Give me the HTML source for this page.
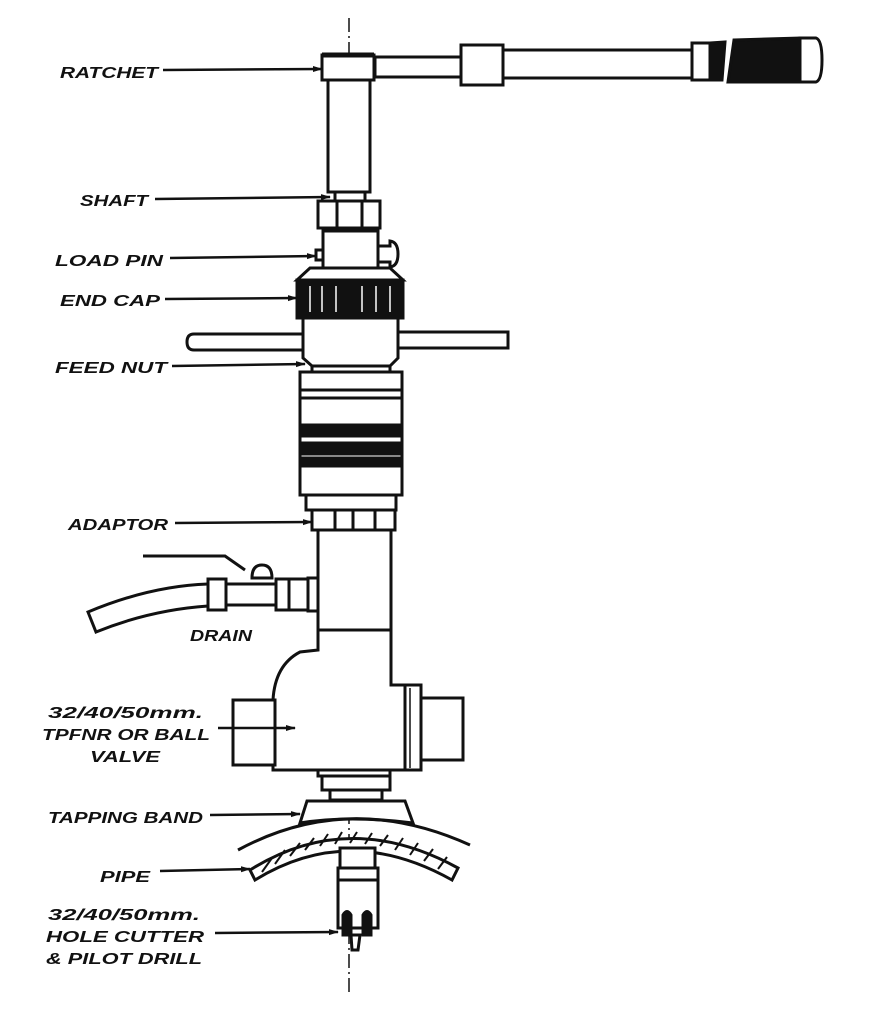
<!DOCTYPE html>
<html><head><meta charset="utf-8"><style>
html,body{margin:0;padding:0;background:#fff;}
svg{display:block;}
text{font-family:"Liberation Sans",sans-serif;font-weight:bold;font-style:italic;font-size:16px;fill:#111;}
</style></head><body>
<svg width="881" height="1024" viewBox="0 0 881 1024" xmlns="http://www.w3.org/2000/svg">
<defs>
<marker id="a" markerWidth="10" markerHeight="8" refX="9" refY="4" orient="auto" markerUnits="userSpaceOnUse"><path d="M0,1 L10,4 L0,7 Z" fill="#111"/></marker>
</defs>
<g stroke="#111" stroke-width="3" fill="#fff">
<!-- centerline -->
<line x1="349" y1="18" x2="349" y2="995" stroke-width="1.5" stroke-dasharray="14,4,2,4" fill="none"/>
<!-- handle -->
<rect x="375" y="57" width="87" height="20"/>
<rect x="461" y="45" width="42" height="40"/>
<rect x="503" y="50" width="190" height="28"/>
<rect x="692" y="43" width="18" height="37"/>
<path d="M710,43 L725,42 L722,80 L710,80 Z" fill="#111"/>
<path d="M734,40 L800,38 L800,82 L728,82 Z" fill="#111"/>
<path d="M800,38 L816,38 Q822,40 822,60 Q822,80 816,82 L800,82 Z"/>
<!-- ratchet -->
<rect x="322" y="55" width="52" height="25"/>
<line x1="322" y1="55" x2="374" y2="55" stroke-width="5"/>
<!-- shaft -->
<rect x="328" y="80" width="42" height="112"/>
<rect x="335" y="192" width="30" height="9"/>
<!-- nut -->
<rect x="318" y="201" width="62" height="27"/>
<line x1="337" y1="201" x2="337" y2="228"/><line x1="362" y1="201" x2="362" y2="228"/>
<!-- load pin -->
<rect x="323" y="231" width="55" height="37"/>
<rect x="316" y="250" width="7" height="10"/>
<path d="M378,246 L390,246 L390,241 Q398,242 398,254 Q398,266 390,267 L390,262 L378,262 Z"/>
<!-- end cap -->
<path d="M310,268 L390,268 L403,280 L297,280 Z"/>
<rect x="297" y="280" width="106" height="38" fill="#111"/>
<g stroke="#fff" stroke-width="1.5"><line x1="310" y1="286" x2="310" y2="312"/><line x1="322" y1="286" x2="322" y2="312"/><line x1="336" y1="286" x2="336" y2="312"/><line x1="362" y1="286" x2="362" y2="312"/><line x1="376" y1="286" x2="376" y2="312"/><line x1="390" y1="286" x2="390" y2="312"/></g>
<!-- feed bar -->
<path d="M303,334 L194,334 Q187,334 187,342 Q187,350 194,350 L303,350"/>
<rect x="398" y="332" width="110" height="16"/>
<path d="M303,318 L398,318 L398,358 L390,366 L312,366 L303,358 Z"/>
<rect x="312" y="366" width="78" height="6"/>
<!-- body -->
<rect x="300" y="372" width="102" height="123"/>
<line x1="300" y1="390" x2="402" y2="390"/><line x1="300" y1="398" x2="402" y2="398"/>
<rect x="300" y="425" width="102" height="11" fill="#111"/>
<rect x="300" y="443" width="102" height="11" fill="#111"/>
<rect x="300" y="458" width="102" height="8" fill="#111"/>
<rect x="306" y="495" width="90" height="15"/>
<!-- adaptor -->
<rect x="312" y="510" width="83" height="20"/>
<line x1="335" y1="510" x2="335" y2="530"/><line x1="353" y1="510" x2="353" y2="530"/><line x1="375" y1="510" x2="375" y2="530"/>
<!-- tube -->
<rect x="318" y="530" width="73" height="100"/>
<!-- drain -->
<path d="M143,556 L225,556 L245,570" fill="none"/>
<path d="M252,578 Q252,565 262,565 Q272,565 272,578 Z"/>
<path d="M208,584 Q150,586 88,612 L96,632 Q150,610 208,606" />
<rect x="208" y="579" width="18" height="31"/>
<rect x="226" y="584" width="50" height="21"/>
<rect x="276" y="579" width="32" height="31"/>
<rect x="308" y="578" width="10" height="33"/>
<line x1="289" y1="579" x2="289" y2="610"/>
<!-- valve body -->
<path d="M318,630 L391,630 L391,685 L405,685 L405,770 L318,770 L318,770 L273,770 L273,700 Q275,665 300,652 L318,650 Z"/>
<rect x="233" y="700" width="42" height="65"/>
<rect x="405" y="685" width="16" height="85"/>
<line x1="410" y1="688" x2="410" y2="768" stroke-width="1.5"/>
<rect x="421" y="698" width="42" height="62"/>
<rect x="318" y="770" width="72" height="6"/>
<rect x="322" y="776" width="68" height="14"/>
<rect x="330" y="790" width="52" height="10"/>
<!-- tapping band -->
<path d="M307,801 L405,801 L413,823 Q349,815 300,823 Z"/>
<path d="M238,850 Q349,790 470,845" fill="none"/>
<!-- pipe -->
<path d="M250,870 Q349,808 458,868 L452,880 Q349,822 255,880 Z" fill="#fff"/>
<g stroke-width="2"><line x1="262" y1="872" x2="272" y2="858"/><line x1="275" y1="864" x2="285" y2="850"/><line x1="290" y1="856" x2="300" y2="843"/><line x1="305" y1="850" x2="314" y2="838"/><line x1="320" y1="846" x2="328" y2="834"/><line x1="335" y1="844" x2="342" y2="832"/><line x1="350" y1="843" x2="357" y2="832"/><line x1="365" y1="844" x2="372" y2="833"/><line x1="380" y1="846" x2="388" y2="835"/><line x1="395" y1="850" x2="403" y2="838"/><line x1="410" y1="855" x2="418" y2="843"/><line x1="424" y1="861" x2="433" y2="849"/><line x1="438" y1="869" x2="447" y2="857"/></g>
<!-- cutter -->
<rect x="340" y="848" width="35" height="20"/>
<rect x="338" y="868" width="40" height="60"/>
<line x1="338" y1="880" x2="378" y2="880"/>
<path d="M343,935 L343,915 Q347,908 351,915 L351,935 Z" fill="#111"/>
<path d="M363,935 L363,915 Q367,908 371,915 L371,935 Z" fill="#111"/>
<path d="M351,935 L360,935 L358,950 L352,950 Z"/>
</g>
<!-- leaders -->
<g stroke="#111" stroke-width="2.5" fill="none" marker-end="url(#a)">
<line x1="163" y1="70" x2="322" y2="69"/>
<line x1="155" y1="199" x2="330" y2="197"/>
<line x1="170" y1="258" x2="316" y2="256"/>
<line x1="165" y1="299" x2="297" y2="298"/>
<line x1="172" y1="366" x2="305" y2="364"/>
<line x1="175" y1="523" x2="312" y2="522"/>
<line x1="218" y1="728" x2="295" y2="728"/>
<line x1="210" y1="815" x2="300" y2="814"/>
<line x1="160" y1="871" x2="250" y2="869"/>
<line x1="215" y1="933" x2="338" y2="932"/>
</g>
<text x="60" y="78" textLength="98" lengthAdjust="spacingAndGlyphs">RATCHET</text>
<text x="80" y="206" textLength="68" lengthAdjust="spacingAndGlyphs">SHAFT</text>
<text x="55" y="266" textLength="108" lengthAdjust="spacingAndGlyphs">LOAD PIN</text>
<text x="60" y="306" textLength="100" lengthAdjust="spacingAndGlyphs">END CAP</text>
<text x="55" y="373" textLength="112" lengthAdjust="spacingAndGlyphs">FEED NUT</text>
<text x="68" y="530" textLength="100" lengthAdjust="spacingAndGlyphs">ADAPTOR</text>
<text x="190" y="641" textLength="62" lengthAdjust="spacingAndGlyphs">DRAIN</text>
<text x="48" y="718" textLength="155" lengthAdjust="spacingAndGlyphs">32/40/50mm.</text>
<text x="42" y="740" textLength="168" lengthAdjust="spacingAndGlyphs">TPFNR OR BALL</text>
<text x="90" y="762" textLength="70" lengthAdjust="spacingAndGlyphs">VALVE</text>
<text x="48" y="823" textLength="155" lengthAdjust="spacingAndGlyphs">TAPPING BAND</text>
<text x="100" y="882" textLength="50" lengthAdjust="spacingAndGlyphs">PIPE</text>
<text x="48" y="920" textLength="152" lengthAdjust="spacingAndGlyphs">32/40/50mm.</text>
<text x="46" y="942" textLength="158" lengthAdjust="spacingAndGlyphs">HOLE CUTTER</text>
<text x="46" y="964" textLength="156" lengthAdjust="spacingAndGlyphs">&amp; PILOT DRILL</text>
</svg>
</body></html>
